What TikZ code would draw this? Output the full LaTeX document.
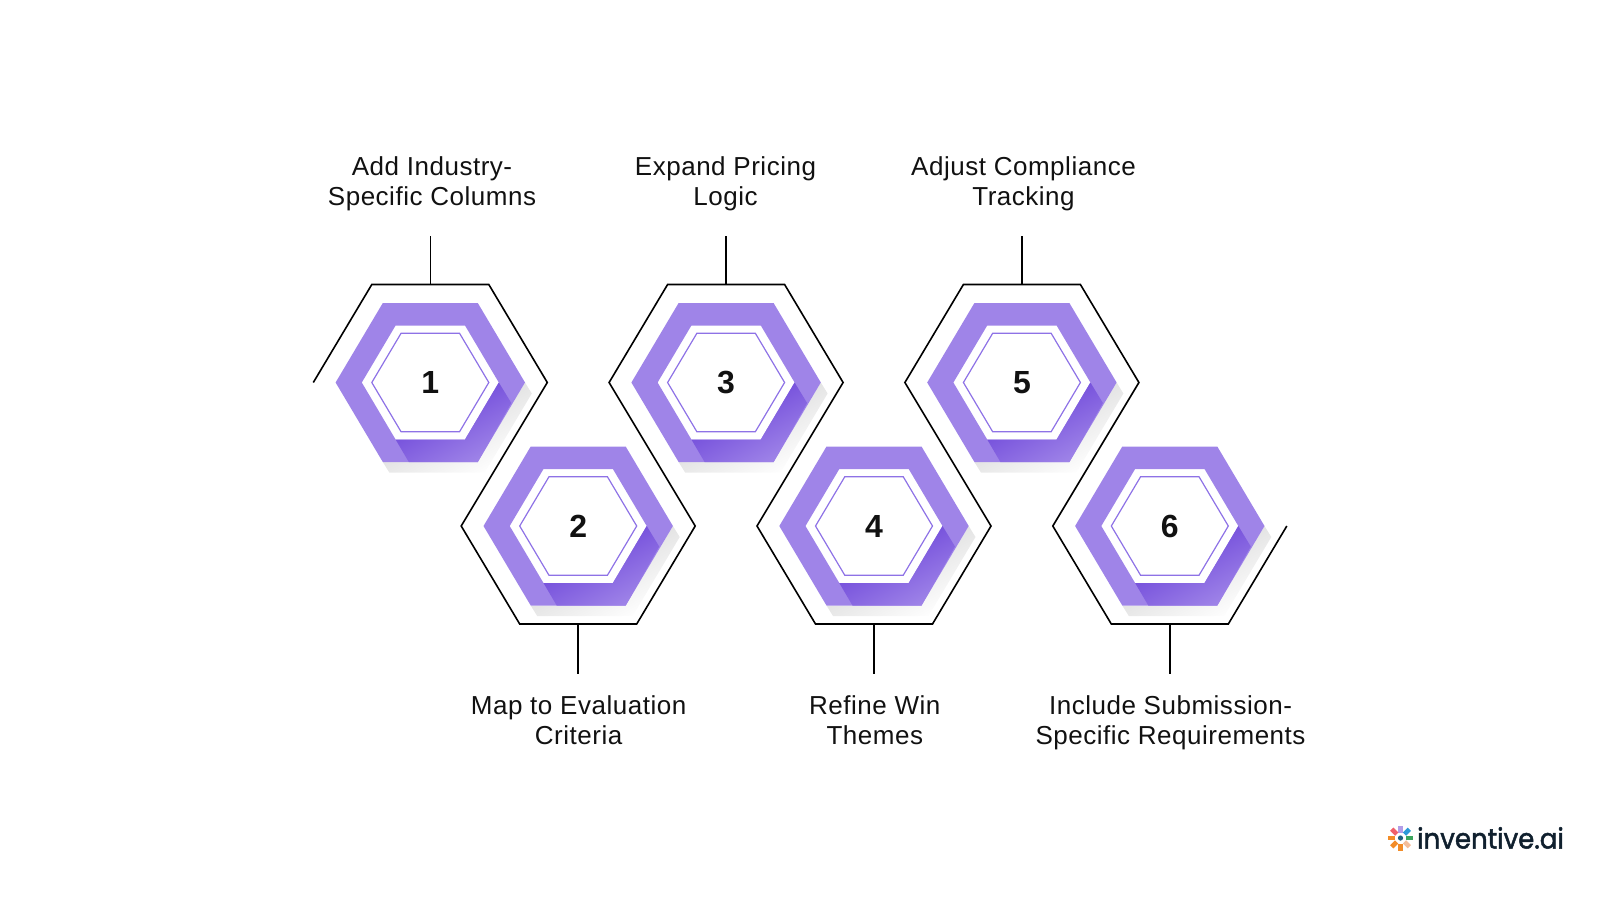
\documentclass[tikz,border=0pt]{standalone}
\usepackage{fontspec}
\setmainfont[LetterSpace=2]{Liberation Sans}
\newfontfamily\numfont{Liberation Sans}
\newfontfamily\logofont[FakeBold=1.8]{Poppins}
\definecolor{hexfill}{HTML}{9F84E8}
\definecolor{hexdark}{HTML}{6238D6}
\definecolor{hexline}{HTML}{8E72E6}
\definecolor{shadowgray}{HTML}{CECECE}
\definecolor{inkblack}{HTML}{111111}
\definecolor{logoink}{HTML}{10202E}
\definecolor{logodot}{HTML}{1F5F7F}
\tikzset{
  outline/.style={draw=black, line width=1.6pt, line join=miter},
  stem/.style={draw=black, line width=1.6pt},
  steplabel/.style={align=center, font=\fontsize{26}{29.9}\selectfont, text=inkblack, inner sep=0pt},
  stepnum/.style={font=\numfont\fontsize{32}{32}\selectfont\bfseries, text=inkblack, inner sep=0pt},
  petal/.style={minimum width=7pt, minimum height=4.6pt, inner sep=0pt},
  hexcell/.pic={
    % shadow
    \shade[top color=shadowgray, bottom color=white, shading angle=29]
      (94.7,0) -- (101.5,11) -- (54.5,90) -- (-41,90) -- (-47.5,79.5) -- (47.5,79.5) -- cycle;
    % ring
    \fill[hexfill, even odd rule]
      (-47.5,-79.5) -- (47.5,-79.5) -- (94.7,0) -- (47.5,79.5) -- (-47.5,79.5) -- (-94.7,0) -- cycle
      (-34.7,-57) -- (34.7,-57) -- (68.5,0) -- (34.7,57) -- (-34.7,57) -- (-68.5,0) -- cycle;
    % dark band
    \shade[top color=hexdark, bottom color=hexfill, shading angle=29]
      (68.5,0) -- (81,20.5) -- (47.5,79.5) -- (-21.5,79.5) -- (-34.7,57) -- (34.7,57) -- cycle;
    % inner line
    \draw[hexline, line width=1.2pt]
      (-29.2,-49.3) -- (29.2,-49.3) -- (58.5,0) -- (29.2,49.3) -- (-29.2,49.3) -- (-58.5,0) -- cycle;
    \node[stepnum] (num) at (0,0) {#1};
    % outer corners
    \coordinate (l) at (-117,0);
    \coordinate (tl) at (-58.5,-98);
    \coordinate (tr) at (58.5,-98);
    \coordinate (r) at (117,0);
    \coordinate (br) at (58.5,98);
    \coordinate (bl) at (-58.5,98);
    \coordinate (t) at (0,-98);
    \coordinate (b) at (0,98);
  }
}
\begin{document}
\begin{tikzpicture}[x=1pt, y=-1pt]
  \useasboundingbox (0,0) rectangle (1600,900);
  % Define hexagons
  \pic (h1-) at (430.3,382.5) {hexcell={1}};
  \pic (h2-) at (578.2,526) {hexcell={2}};
  \pic (h3-) at (726.1,382.5) {hexcell={3}};
  \pic (h4-) at (874,526) {hexcell={4}};
  \pic (h5-) at (1021.9,382.5) {hexcell={5}};
  \pic (h6-) at (1169.8,526) {hexcell={6}};
  % Outline
  \draw[outline] (h1-l) -- (h1-tl) -- (h1-tr) -- (h1-r) -- (h2-l) -- (h2-bl) -- (h2-br) -- (h2-r)
    -- (h3-l) -- (h3-tl) -- (h3-tr) -- (h3-r) -- (h4-l) -- (h4-bl) -- (h4-br) -- (h4-r)
    -- (h5-l) -- (h5-tl) -- (h5-tr) -- (h5-r) -- (h6-l) -- (h6-bl) -- (h6-br) -- (h6-r);
  % Stem ends
  \coordinate (s1) at (430.3,236);
  \coordinate (s2) at (578.2,674);
  \coordinate (s3) at (726.1,236);
  \coordinate (s4) at (874,674);
  \coordinate (s5) at (1021.9,236);
  \coordinate (s6) at (1169.8,674);
  % Labels
  \node[steplabel, anchor=south] (lab1) at (432,211) {Add Industry-\\Specific Columns};
  \node[steplabel, anchor=north] (lab2) at (578.6,695.5) {Map to Evaluation\\Criteria};
  \node[steplabel, anchor=south] (lab3) at (725.5,211) {Expand Pricing\\Logic};
  \node[steplabel, anchor=north] (lab4) at (874.8,695.5) {Refine Win\\Themes};
  \node[steplabel, anchor=south] (lab5) at (1023.5,211) {Adjust Compliance\\Tracking};
  \node[steplabel, anchor=north] (lab6) at (1170.5,695.5) {Include Submission-\\Specific Requirements};
  % Connect
  \draw[stem] (h1-t) -- (s1);
  \draw[stem] (h2-b) -- (s2);
  \draw[stem] (h3-t) -- (s3);
  \draw[stem] (h4-b) -- (s4);
  \draw[stem] (h5-t) -- (s5);
  \draw[stem] (h6-b) -- (s6);
  % Logo
  \coordinate (logomark) at (1400.5,838);
  \foreach \ang/\col in {90/B39DE8, 45/2B9AD8, 0/3BA55D, -45/F4BE9A, -90/F28C28, -135/F28C28, 180/F28C28, 135/F0606A} {
    \definecolor{petalcol}{HTML}{\col}
    \node[petal, fill=petalcol, rotate=\ang] at ([shift={(\ang:9pt)}] logomark) {};
  }
  \fill[logodot] (logomark) circle (2.6pt);
  \node[font=\logofont\fontsize{28}{28}\selectfont, text=logoink, inner sep=0pt, anchor=base west, xscale=0.93] (logotext) at (1417,848.5) {inventive.ai};
\end{tikzpicture}
\end{document}
